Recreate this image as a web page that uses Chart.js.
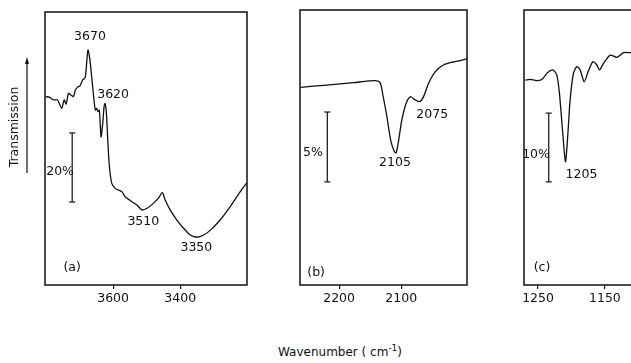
<!DOCTYPE html>
<html lang="en">
<head>
<meta charset="UTF-8">
<title>IR spectra</title>
<style>
    body {
        margin: 0;
        width: 631px;
        height: 363px;
        overflow: hidden;
        position: relative;
        background: #fff;
        font-family: "DejaVu Sans", sans-serif;
    }
    canvas { position: absolute; top: 0; }
    #xlabel {
        position: absolute;
        left: 278px;
        top: 343px;
        font-size: 12px;
        color: #111;
        white-space: nowrap;
    }
    #xlabel sup { font-size: 9px; }
</style>
</head>
<body>
<canvas id="chartA" style="left:0px"></canvas>
<canvas id="chartB" style="left:260px"></canvas>
<canvas id="chartC" style="left:470px"></canvas>
<div id="xlabel">Wavenumber ( cm<sup>-1</sup>)</div>

<script src="https://cdn.jsdelivr.net/npm/chart.js"></script>
<script>
// panel (a): O-H region
const waveA = [3800, 3790, 3778, 3766, 3753, 3746, 3740, 3733, 3726, 3718, 3713, 3707, 3699, 3691, 3683, 3675, 3669, 3663, 3657, 3653, 3649, 3645, 3641, 3636, 3631, 3627, 3624, 3620, 3616, 3611, 3604, 3594, 3584, 3574, 3564, 3544, 3529, 3514, 3499, 3480, 3465, 3453, 3445, 3430, 3410, 3390, 3370, 3350, 3330, 3310, 3281, 3251, 3221, 3201];
const transA = [69.0, 68.8, 67.8, 67.8, 64.7, 67.8, 66.3, 70.2, 69.6, 69.0, 71.2, 72.4, 72.9, 75.1, 76.1, 86.1, 82.4, 75.1, 67.8, 64.1, 64.7, 63.5, 64.0, 54.3, 59.2, 65.3, 66.5, 62.9, 53.1, 43.3, 37.2, 35.4, 34.8, 34.2, 32.3, 30.5, 29.3, 27.5, 28.1, 29.9, 31.8, 33.8, 31.1, 27.5, 23.8, 20.8, 18.3, 17.5, 18.3, 20.1, 23.8, 28.7, 34.2, 37.5];

// panel (b): 2100 region
const waveB = [2262, 2220, 2177, 2142, 2134, 2129, 2123, 2117, 2111, 2108, 2104, 2099, 2092, 2085, 2079, 2070, 2064, 2056, 2045, 2032, 2018, 2005, 1993];
const transB = [71.9, 72.7, 73.6, 74.3, 73.6, 68.5, 61.2, 52.7, 48.5, 48.1, 52.7, 60.0, 66.1, 68.5, 67.5, 66.7, 68.5, 73.3, 77.6, 80.0, 81.0, 81.6, 82.4];

// panel (c): 1200 region
const waveC = [1269, 1262, 1252, 1244, 1236, 1228, 1222, 1218, 1213, 1209, 1206, 1202, 1197, 1192, 1187, 1181, 1175, 1168, 1162, 1158, 1152, 1142, 1132, 1122, 1111, 1100];
const transC = [74.5, 74.8, 74.3, 74.8, 77.2, 78.2, 76.4, 69.7, 55.2, 44.8, 52.7, 67.3, 77.0, 79.4, 78.2, 73.9, 77.6, 81.2, 80.0, 78.2, 80.6, 83.6, 82.8, 84.5, 84.5, 84.8];

// tick labels
const ticksA = [3600, 3400];
const ticksB = [2200, 2100];
const ticksC = [1250, 1150];

// scale bars: [wavenumber, bottom, top]
const barA = [3722, 30.4, 55.7];
const barB = [2219, 37.5, 62.9];
const barC = [1234, 37.5, 62.5];

// peak labels and notes
const notesA = [
    { text: '3670', x: 3669, y: 90.8 },
    { text: '3620', x: 3600, y: 69.6 },
    { text: '3510', x: 3510, y: 23.1 },
    { text: '3350', x: 3352, y: 13.6 },
    { text: '20%', x: 3758, y: 41.4 },
    { text: '(a)', x: 3722, y: 6.2 }
];
const notesB = [
    { text: '2075', x: 2050, y: 61.8 },
    { text: '2105', x: 2110, y: 44.4 },
    { text: '5%', x: 2242, y: 48.0 },
    { text: '(b)', x: 2237, y: 4.4 }
];
const notesC = [
    { text: '1205', x: 1185, y: 40.0 },
    { text: '10%', x: 1253, y: 47.3 },
    { text: '(c)', x: 1244, y: 6.2 }
];

const INK = '#111';
const FONT = '12.5px "DejaVu Sans"';

const framePlugin = {
    id: 'frame',
    afterDatasetsDraw(chart, args, opts) {
        const { ctx, chartArea: a, scales: { x, y } } = chart;
        ctx.save();
        ctx.strokeStyle = INK;
        ctx.lineWidth = 1.5;
        ctx.strokeRect(a.left, a.top, a.right - a.left, a.bottom - a.top);
        ctx.fillStyle = INK;
        ctx.font = FONT;
        ctx.textAlign = 'center';
        ctx.textBaseline = 'middle';
        (opts.notes || []).forEach(n => {
            ctx.fillText(n.text, x.getPixelForValue(n.x), y.getPixelForValue(n.y));
        });
        if (opts.yTitle) {
            // Transmission label with arrow
            ctx.save();
            ctx.translate(15, 127);
            ctx.rotate(-Math.PI / 2);
            ctx.fillText('Transmission', 0, 0);
            ctx.restore();
            ctx.lineWidth = 1.2;
            ctx.beginPath();
            ctx.moveTo(27, 173);
            ctx.lineTo(27, 62);
            ctx.stroke();
            ctx.beginPath();
            ctx.moveTo(27, 57);
            ctx.lineTo(25, 64);
            ctx.lineTo(29, 64);
            ctx.closePath();
            ctx.fill();
        }
        ctx.restore();
    }
};

function makePanel(id, width, pad, waves, trans, ticks, bar, notes, xmin, xmax, yTitle) {
    const cv = document.getElementById(id);
    cv.width = width;
    cv.height = 320;
    cv.style.width = width + 'px';
    cv.style.height = '320px';
    return new Chart(cv.getContext('2d'), {
        type: 'line',
        data: {
            datasets: [
                {
                    data: waves.map((w, i) => ({ x: w, y: trans[i] })),
                    borderColor: INK,
                    borderWidth: 1.3,
                    pointRadius: 0,
                    tension: 0.25,
                    fill: false
                },
                {
                    data: [{ x: bar[0], y: bar[1] }, { x: bar[0], y: bar[2] }],
                    borderColor: INK,
                    borderWidth: 1.2,
                    pointStyle: 'line',
                    pointRadius: 3,
                    pointBorderColor: INK,
                    pointBorderWidth: 1.2,
                    fill: false
                }
            ]
        },
        options: {
            responsive: false,
            animation: false,
            layout: { padding: { left: pad.left, right: pad.right, top: pad.top, bottom: 0 } },
            plugins: {
                legend: { display: false },
                tooltip: { enabled: false },
                frame: { notes: notes, yTitle: yTitle }
            },
            scales: {
                x: {
                    type: 'linear',
                    reverse: true,
                    min: xmin,
                    max: xmax,
                    afterBuildTicks: s => { s.ticks = ticks.map(v => ({ value: v })); },
                    afterFit: s => { s.height = 35; },
                    grid: { drawOnChartArea: false, tickLength: 4, color: INK, lineWidth: 1.2 },
                    border: { display: false },
                    ticks: {
                        color: INK,
                        padding: 2,
                        maxRotation: 0,
                        callback: v => String(v),
                        font: { family: 'DejaVu Sans', size: 12.5 }
                    }
                },
                y: { display: false, min: 0, max: 100 }
            }
        },
        plugins: [framePlugin]
    });
}

makePanel('chartA', 260, { left: 45, right: 13, top: 12 }, waveA, transA, ticksA, barA, notesA, 3201, 3803, true);
makePanel('chartB', 220, { left: 40, right: 13, top: 10 }, waveB, transB, ticksB, barB, notesB, 1994, 2263, false);
makePanel('chartC', 185, { left: 54, right: 10, top: 10 }, waveC, transC, ticksC, barC, notesC, 1090, 1271, false);
</script>
</body>
</html>
